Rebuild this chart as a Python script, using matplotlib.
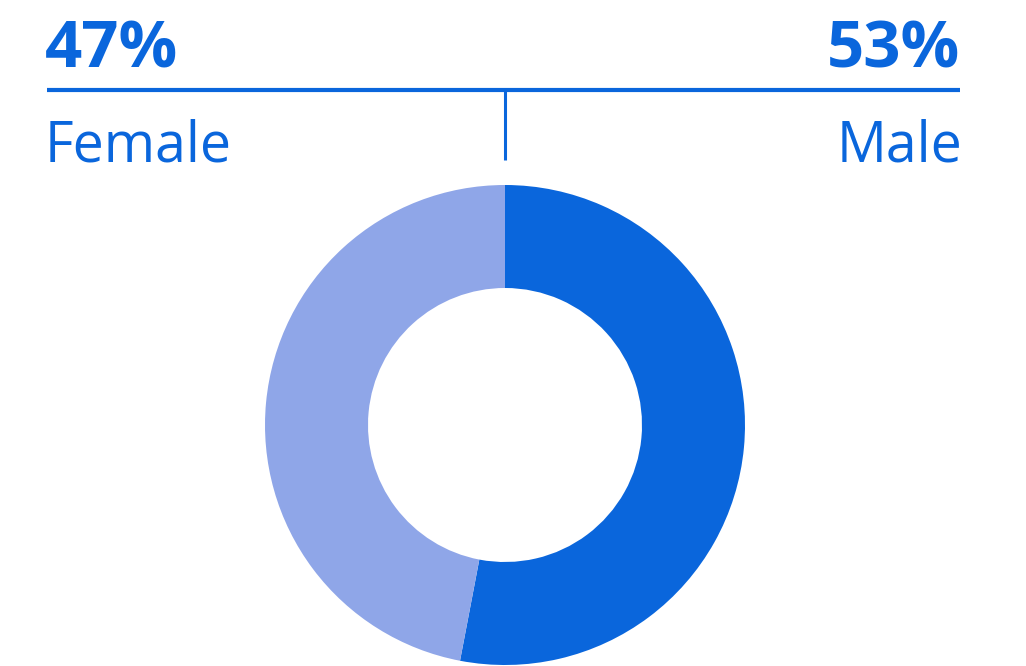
import matplotlib
matplotlib.use('Agg')
import matplotlib.pyplot as plt

labels = ['Male', 'Female']
shares = [53, 47]
colors = ['#0A66DC', '#8FA6E8']
blue = '#0A66DC'

fig = plt.figure(figsize=(10.26, 6.66), dpi=100)

# donut
ax = fig.add_axes([265 / 1026, 1 - 665 / 666, 480 / 1026, 480 / 666])
ax.pie(shares, colors=colors, startangle=90, counterclock=False,
       radius=1, wedgeprops=dict(width=1 - 137 / 240, linewidth=0))
ax.set_xlim(-1, 1)
ax.set_ylim(-1, 1)
ax.set_aspect('auto')
ax.axis('off')

# header lines
fig.add_artist(plt.Line2D([47 / 1026, 960 / 1026], [1 - 90 / 666, 1 - 90 / 666],
                          color=blue, lw=3, solid_capstyle='butt'))
fig.add_artist(plt.Line2D([505 / 1026, 505 / 1026], [1 - 90 / 666, 1 - 160 / 666],
                          color=blue, lw=2.2, solid_capstyle='butt'))

# labels
fig.text(45 / 1026, 1 - 68 / 666, '%d%%' % shares[1], color=blue,
         fontsize=47, fontweight='bold', family='Open Sans', ha='left', va='baseline')
fig.text(960 / 1026, 1 - 68 / 666, '%d%%' % shares[0], color=blue,
         fontsize=47, fontweight='bold', family='Open Sans', ha='right', va='baseline')
fig.text(45 / 1026, 1 - 161 / 666, labels[1], color=blue,
         fontsize=40, family='Open Sans', ha='left', va='baseline')
fig.text(962 / 1026, 1 - 161 / 666, labels[0], color=blue,
         fontsize=40, family='Open Sans', ha='right', va='baseline')

fig.savefig('out.png', dpi=100)
